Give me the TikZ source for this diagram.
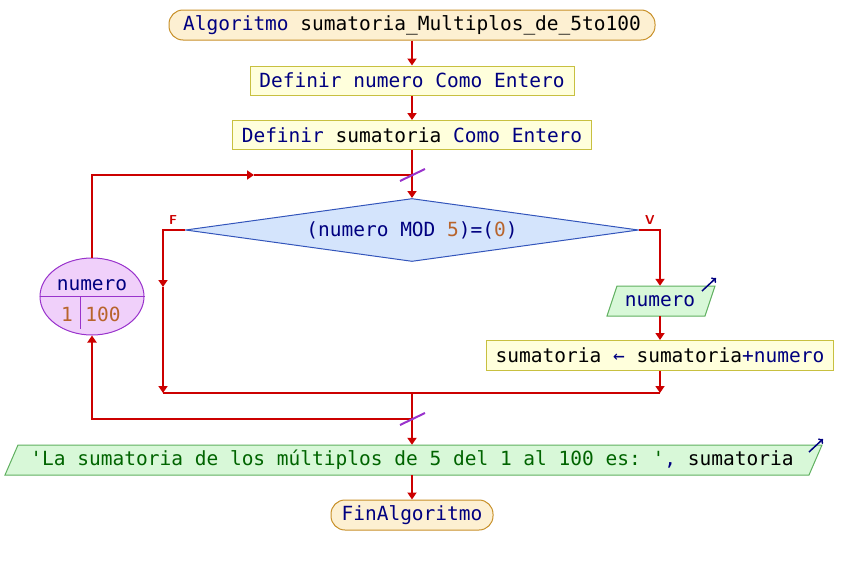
\documentclass[tikz,border=0pt]{standalone}
\usepackage{fontspec}
\setmonofont{DejaVu Sans Mono}
\usetikzlibrary{shapes.geometric,arrows.meta,calc}
\definecolor{nv}{RGB}{0,0,128}
\definecolor{br}{RGB}{184,100,44}
\definecolor{dg}{RGB}{0,100,0}
\definecolor{lr}{RGB}{204,0,0}
\definecolor{sl}{RGB}{153,51,204}
\definecolor{dfill}{RGB}{212,228,252}
\definecolor{db}{RGB}{51,85,187}
\definecolor{ef}{RGB}{240,208,250}
\definecolor{eb}{RGB}{153,51,204}
\definecolor{iff}{RGB}{216,248,216}
\definecolor{ib}{RGB}{96,176,96}
\definecolor{pf}{RGB}{255,255,220}
\definecolor{pb}{RGB}{200,192,64}
\definecolor{tf}{RGB}{253,240,210}
\definecolor{tb}{RGB}{200,144,40}
\begin{document}
\begin{tikzpicture}[x=1pt,y=-1pt,
  font=\ttfamily\fontsize{19.5}{22}\selectfont,
  flow/.style={draw=lr,line width=2pt},
  arr/.style={flow,-{Triangle[length=7pt,width=9pt]}},
  term/.style={draw=tb,fill=tf,line width=1pt,rounded corners=14pt,minimum height=30pt,inner sep=0pt},
  proc/.style={draw=pb,fill=pf,line width=1pt,minimum height=29pt,inner sep=0pt},
  io/.style={draw=ib,fill=iff,line width=1pt},
  iotext/.style={minimum height=30pt,inner sep=0pt},
  slash/.style={draw=sl,line width=2pt},
  ioarrow/.style={draw=nv,line width=1.5pt,-{To[length=4pt,width=7pt]}},
  flag/.style={text=lr,font=\sffamily\bfseries\fontsize{13}{15}\selectfont}
]
\useasboundingbox (0,0) rectangle (844,565);

% shapes
\node[term,minimum width=486pt] (start) at (412,25) {{\color{nv}Algoritmo} sumatoria\_Multiplos\_de\_5to100};
\node[proc,minimum width=324pt] (def1) at (412,80.5) {\color{nv}Definir numero Como Entero};
\node[proc,minimum width=359pt] (def2) at (412,135) {{\color{nv}Definir} sumatoria {\color{nv}Como Entero}};
\node[diamond,draw=db,fill=dfill,line width=1pt,minimum width=453pt,minimum height=63pt,aspect=7.2,inner sep=0pt] (dia) at (412,230)
  {{\color{nv}(numero MOD }{\color{br}5}{\color{nv})=(}{\color{br}0}{\color{nv})}};

\draw[io] (617,286) -- (715,286) -- (705,316) -- (607,316) -- cycle;
\node[iotext,minimum width=90pt] (inp) at (660,301) {\color{nv}numero};
\coordinate (ia1) at (702,291);
\coordinate (ia2) at (716,278);
\draw[ioarrow] (ia1) -- (ia2);

\node[proc,minimum width=347pt,minimum height=30pt] (asg) at (660,355.5) {sumatoria {\color{nv}←} sumatoria{\color{nv}+numero}};

\node[ellipse,draw=eb,fill=ef,line width=1pt,minimum width=104pt,minimum height=77pt,inner sep=0pt] (ell) at (92,296.5) {};
\draw[draw=eb,line width=1pt] (ell.west) -- (ell.east);
\coordinate (dv1) at (80,297);
\coordinate (dv2) at (80,329);
\draw[draw=eb,line width=1pt] (dv1) -- (dv2);
\node[text=nv] (ellv) at (92,285) {numero};
\node[text=br] (ella) at (67,314) {1};
\node[text=br] (ellb) at (103,314) {100};

\draw[io] (18,445) -- (822,445) -- (809,475) -- (5,475) -- cycle;
\node[iotext,minimum width=780pt] (out) at (412,460) {{\color{dg}'La sumatoria de los múltiplos de 5 del 1 al 100 es: '}{\color{nv},} sumatoria};
\coordinate (oa1) at (809,452);
\coordinate (oa2) at (823,439);
\draw[ioarrow] (oa1) -- (oa2);

\node[term,minimum width=162pt] (end) at (412,515) {\color{nv}FinAlgoritmo};

% flags
\node[flag] (fF) at (173,220) {F};
\node[flag] (fV) at (650,220) {V};

% junction points
\coordinate (j1) at (412,175);
\coordinate (m1) at (254,175);
\coordinate (mL) at (163,287);
\coordinate (jL) at (163,393);
\coordinate (jR) at (660,393);
\coordinate (j2) at (412,393);
\coordinate (j3) at (412,419);

% connectors
\draw[arr] (start) -- (def1);
\draw[arr] (def1) -- (def2);
\draw[arr] (def2.south) -- (dia.north);
\draw[arr] (ell.north) |- (m1);
\draw[flow] (m1) -- (j1);
\draw[arr] (dia.west) -| (mL);
\draw[arr] (mL) -- (jL);
\draw[arr] (dia.east) -| (inp.north);
\draw[arr] (inp.south) -- (asg.north);
\draw[arr] (asg.south) -- (jR);
\draw[flow] (jL) -- (jR);
\draw[arr] (j2) -- (out.north);
\draw[arr] (j3) -| (ell.south);
\draw[arr] (out.south) -- (end.north);

% loop marks
\draw[slash] ($(j1)+(-12,6)$) -- ($(j1)+(13,-6)$);
\draw[slash] ($(j3)+(-12,6)$) -- ($(j3)+(13,-6)$);
\end{tikzpicture}
\end{document}
